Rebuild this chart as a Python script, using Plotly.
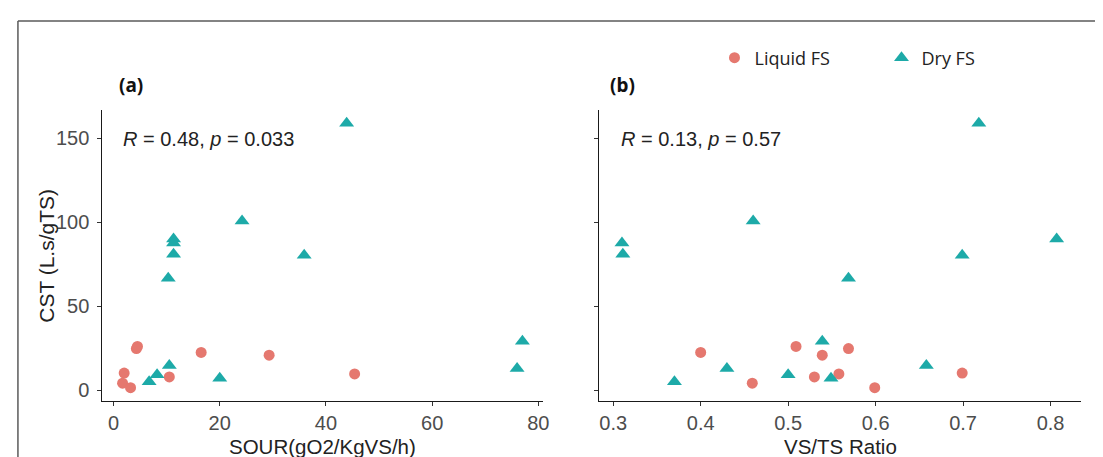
import plotly.graph_objects as go

# ---- data ----
liquid_cst  = [24.7, 26.0, 22.4, 20.8, 10.1, 9.6, 7.8, 4.1, 1.4]
liquid_sour = [4.3, 4.5, 16.5, 29.3, 2.0, 45.4, 10.5, 1.7, 3.2]
liquid_vsts = [0.569, 0.509, 0.40, 0.539, 0.699, 0.558, 0.53, 0.459, 0.599]

dry_cst  = [158.8, 100.6, 89.9, 87.6, 80.9, 80.2, 66.5, 29.0, 14.6, 12.8, 9.1, 7.1, 4.9]
dry_sour = [43.9, 24.2, 11.3, 11.3, 11.3, 35.9, 10.3, 77.0, 10.5, 76.0, 8.2, 20.0, 6.7]
dry_vsts = [0.718, 0.46, 0.807, 0.31, 0.311, 0.699, 0.569, 0.539, 0.658, 0.43, 0.50, 0.549, 0.37]

group_names = ["Liquid FS", "Dry FS"]
sour_ticks = [0, 20, 40, 60, 80]
vsts_ticks = [0.3, 0.4, 0.5, 0.6, 0.7, 0.8]
cst_ticks = [0, 50, 100, 150]
stats_a = "<i>R</i> = 0.48, <i>p</i> = 0.033"
stats_b = "<i>R</i> = 0.13, <i>p</i> = 0.57"

C_LIQ = "#E5786F"
C_DRY = "#1DAAA8"

W, H = 1103, 457
def px(x): return x / W
def py(y): return 1 - y / H

fig = go.Figure()
fig.add_trace(go.Scatter(x=liquid_sour, y=liquid_cst, mode="markers", name=group_names[0],
                         marker=dict(symbol="circle", size=11, color=C_LIQ), xaxis="x", yaxis="y",
                         legendgroup="l"))
fig.add_trace(go.Scatter(x=dry_sour, y=dry_cst, mode="markers", name=group_names[1],
                         marker=dict(symbol="triangle-up", size=13, color=C_DRY), xaxis="x", yaxis="y",
                         legendgroup="d"))
fig.add_trace(go.Scatter(x=liquid_vsts, y=liquid_cst, mode="markers", name=group_names[0],
                         marker=dict(symbol="circle", size=11, color=C_LIQ), xaxis="x2", yaxis="y2",
                         legendgroup="l", showlegend=False))
fig.add_trace(go.Scatter(x=dry_vsts, y=dry_cst, mode="markers", name=group_names[1],
                         marker=dict(symbol="triangle-up", size=13, color=C_DRY), xaxis="x2", yaxis="y2",
                         legendgroup="d", showlegend=False))

axis_common = dict(showline=True, linecolor="#1a1a1a", linewidth=1.2, ticks="outside", ticklen=4,
                   tickcolor="#333333", tickwidth=1, showgrid=False, zeroline=False,
                   tickfont=dict(family="Liberation Sans, Arial", size=20, color="#4D4D4D"))

ydom = [py(393), py(102)]
fig.update_layout(
    width=W, height=H, margin=dict(l=0, r=0, t=0, b=0),
    paper_bgcolor="white", plot_bgcolor="white",
    xaxis=dict(domain=[px(95), px(538)], range=[-2.1, 80.8], tickvals=sour_ticks,
               anchor="y", **axis_common),
    yaxis=dict(domain=ydom, range=[-6.5, 166.7], tickvals=cst_ticks, anchor="x",
               ticklabelstandoff=4, **axis_common),
    xaxis2=dict(domain=[px(595), px(1080)], range=[0.284, 0.835], tickvals=vsts_ticks,
                anchor="y2", **axis_common),
    yaxis2=dict(domain=ydom, range=[-6.5, 166.7], tickvals=cst_ticks, anchor="x2",
                showticklabels=False, **axis_common),
    showlegend=True,
    legend=dict(orientation="h", x=px(711), y=py(50), xanchor="left", yanchor="middle",
                font=dict(family="Open Sans", size=18, color="#222222"),
                bgcolor="rgba(0,0,0,0)", entrywidth=122, entrywidthmode="pixels",
                itemclick=False),
)

title_font = dict(family="Liberation Sans, Arial", size=20.5, color="#222222")
ann = [
    dict(text="(a)", x=px(124), y=py(77), font=dict(family="Noto Sans", size=19, color="#111111",
         weight="bold"), xanchor="center", yanchor="middle"),
    dict(text="(b)", x=px(618), y=py(77), font=dict(family="Noto Sans", size=19, color="#111111",
         weight="bold"), xanchor="center", yanchor="middle"),
    dict(text=stats_a, x=px(114), y=py(131), xanchor="left", yanchor="middle",
         font=dict(family="Liberation Sans, Arial", size=20, color="#222222")),
    dict(text=stats_b, x=px(615), y=py(131), xanchor="left", yanchor="middle",
         font=dict(family="Liberation Sans, Arial", size=20, color="#222222")),
    dict(text="SOUR(gO2/KgVS/h)", x=px(316.5), y=py(438), xanchor="center", yanchor="middle",
         font=title_font),
    dict(text="VS/TS Ratio", x=px(837.5), y=py(438), xanchor="center", yanchor="middle",
         font=title_font),
    dict(text="CST (L.s/gTS)", x=px(38), y=py(248), xanchor="center", yanchor="middle",
         textangle=-90, font=dict(family="Liberation Sans, Arial", size=21, color="#222222")),
]
for a in ann:
    a.update(xref="paper", yref="paper", showarrow=False)
fig.update_layout(annotations=ann)

fig.update_layout(shapes=[
    dict(type="line", xref="paper", yref="paper", x0=px(10), x1=1, y0=py(13), y1=py(13),
         line=dict(color="#5a5a5a", width=1.5)),
    dict(type="line", xref="paper", yref="paper", x0=px(10), x1=px(10), y0=0, y1=py(13),
         line=dict(color="#5a5a5a", width=1.5)),
])

fig.write_html("out.html")
